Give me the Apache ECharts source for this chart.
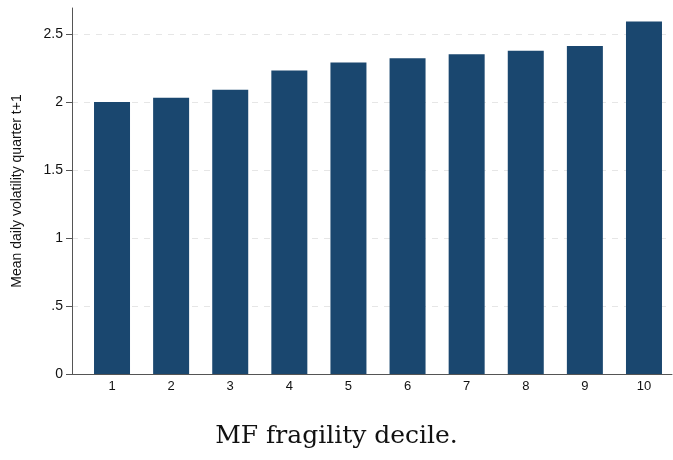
<!DOCTYPE html>
<html>
<head>
<meta charset="utf-8">
<script src="https://cdn.jsdelivr.net/npm/echarts@6/dist/echarts.min.js"></script>
<style>
  html, body { margin: 0; padding: 0; background: #fff; }
  #chart { width: 673px; height: 460px; }
</style>
</head>
<body>
<div id="chart"></div>
<script>
// deciles and mean daily volatility in quarter t+1
const deciles = [1, 2, 3, 4, 5, 6, 7, 8, 9, 10];
const volatility = [2.00, 2.03, 2.09, 2.23, 2.29, 2.32, 2.35, 2.375, 2.41, 2.59];

const chart = echarts.init(document.getElementById('chart'));

const fmtY = v => {
    if (v === 0) return '0';
    const s = String(v);
    return s.startsWith('0.') ? s.slice(1) : s;
};

chart.setOption({
    backgroundColor: '#fff',
    animation: false,
    title: {
        text: 'MF fragility decile.',
        left: 'center',
        top: 419,
        textStyle: {
            fontFamily: 'DejaVu Serif',
            fontWeight: 'normal',
            fontSize: 25,
            color: '#111'
        }
    },
    grid: { left: 72, right: 1, top: 8, bottom: 86 },
    xAxis: {
        type: 'value',
        min: 0.323,
        max: 10.474,
        splitLine: { show: false },
        axisTick: { show: false },
        axisLine: { lineStyle: { color: '#555', width: 1 } },
        axisLabel: {
            customValues: deciles,
            color: '#111',
            fontSize: 13,
            fontFamily: 'Liberation Sans',
            margin: 6
        }
    },
    yAxis: {
        type: 'value',
        min: 0,
        max: 2.69,
        interval: 0.5,
        name: 'Mean daily volatility quarter t+1',
        nameLocation: 'middle',
        nameGap: 48,
        nameTextStyle: { color: '#111', fontSize: 14, fontFamily: 'Liberation Sans' },
        axisLine: { show: true, lineStyle: { color: '#555', width: 1 } },
        axisTick: { show: true, length: 6, lineStyle: { color: '#555' } },
        axisLabel: {
            color: '#111',
            fontSize: 14,
            fontFamily: 'Liberation Sans',
            margin: 9,
            showMaxLabel: false,
            formatter: fmtY
        },
        splitLine: {
            show: true,
            showMinLine: false,
            showMaxLine: false,
            lineStyle: { color: '#e6e6e6', type: [6, 6], width: 1 }
        }
    },
    series: [{
        type: 'bar',
        barWidth: 36,
        data: deciles.map((d, i) => [d, volatility[i]]),
        itemStyle: { color: '#1a476f' }
    }]
});
</script>
</body>
</html>
